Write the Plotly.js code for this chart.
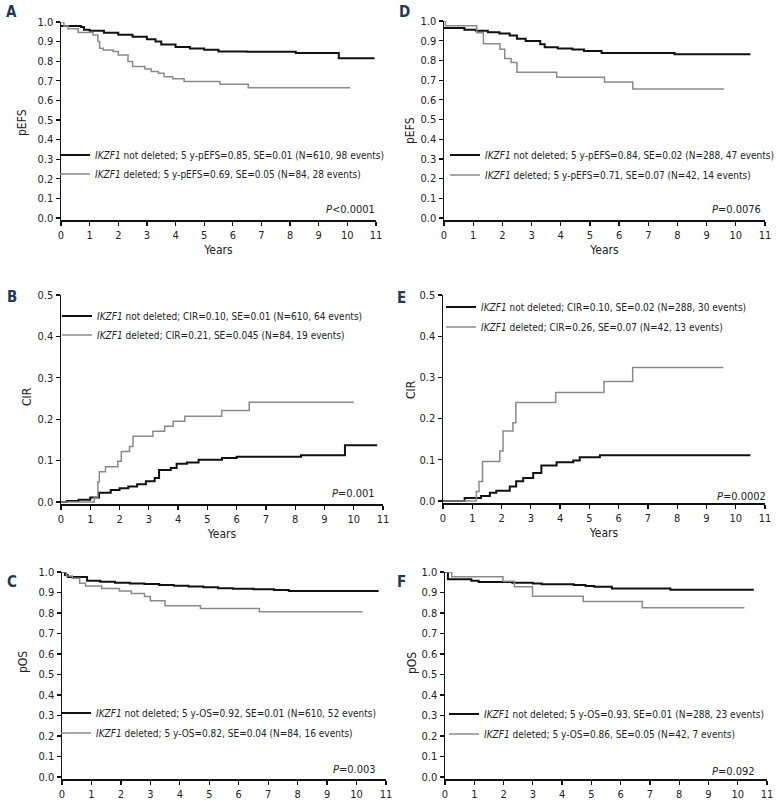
<!DOCTYPE html>
<html>
<head>
<meta charset="utf-8">
<script src="https://cdn.plot.ly/plotly-3.0.1.min.js"></script>
<style>
body { margin: 0; background: #fff; }
#chart { width: 780px; height: 804px; }
</style>
</head>
<body>
<div id="chart"></div>
<script>
// A: pEFS, whole cohort
var efsAllNotDelT = [0, 0.7, 0.8, 1.0, 1.5, 2.0, 2.5, 3.0, 3.3, 3.5, 4.0, 4.5, 5.0, 5.5, 6.5, 8.2, 9.7, 10.95];
var efsAllNotDelV = [0.98, 0.975, 0.96, 0.955, 0.945, 0.935, 0.925, 0.912, 0.9, 0.885, 0.872, 0.865, 0.858, 0.85, 0.848, 0.842, 0.815, 0.815];
var efsAllDelT = [0, 0.1, 0.25, 0.6, 1.12, 1.29, 1.35, 1.47, 1.82, 2.0, 2.34, 2.5, 2.93, 3.15, 3.4, 3.6, 3.9, 4.3, 5.55, 6.54, 10.1];
var efsAllDelV = [1.0, 0.98, 0.965, 0.947, 0.934, 0.9, 0.866, 0.857, 0.849, 0.832, 0.798, 0.773, 0.76, 0.747, 0.738, 0.721, 0.71, 0.696, 0.682, 0.665, 0.665];

// D: pEFS, subgroup
var efsSubNotDelT = [0, 0.7, 1.1, 1.5, 1.9, 2.25, 2.5, 2.8, 3.3, 3.45, 3.9, 4.4, 4.8, 5.4, 7.9, 10.5];
var efsSubNotDelV = [0.965, 0.955, 0.95, 0.943, 0.937, 0.927, 0.91, 0.898, 0.882, 0.867, 0.861, 0.855, 0.848, 0.837, 0.831, 0.831];
var efsSubDelT = [0, 0.05, 1.12, 1.35, 1.92, 2.08, 2.3, 2.5, 3.86, 5.5, 6.47, 9.6];
var efsSubDelV = [1.0, 0.976, 0.94, 0.885, 0.857, 0.81, 0.79, 0.74, 0.715, 0.69, 0.655, 0.655];

// B: CIR, whole cohort
var cirAllNotDelT = [0, 0.2, 0.6, 1.0, 1.3, 1.7, 2.0, 2.3, 2.6, 2.9, 3.2, 3.35, 3.75, 3.95, 4.3, 4.7, 5.5, 6.0, 8.2, 9.7, 10.8];
var cirAllNotDelV = [0, 0.002, 0.005, 0.011, 0.022, 0.029, 0.033, 0.037, 0.043, 0.05, 0.058, 0.077, 0.082, 0.092, 0.095, 0.102, 0.106, 0.109, 0.113, 0.137, 0.137];
var cirAllDelT = [0, 1.14, 1.26, 1.31, 1.52, 1.94, 2.06, 2.34, 2.46, 3.14, 3.54, 3.83, 4.23, 5.49, 6.43, 10.0];
var cirAllDelV = [0, 0.012, 0.049, 0.073, 0.085, 0.098, 0.122, 0.134, 0.159, 0.171, 0.183, 0.195, 0.207, 0.221, 0.241, 0.241];

// E: CIR, subgroup
var cirSubNotDelT = [0, 0.74, 1.3, 1.6, 1.82, 2.28, 2.5, 2.74, 3.08, 3.36, 3.88, 4.45, 4.67, 5.36, 10.5];
var cirSubNotDelV = [0, 0.007, 0.012, 0.02, 0.025, 0.035, 0.048, 0.056, 0.068, 0.086, 0.094, 0.098, 0.106, 0.111, 0.111];
var cirSubDelT = [0, 1.08, 1.14, 1.23, 1.35, 1.94, 2.05, 2.39, 2.49, 3.85, 5.5, 6.48, 9.58];
var cirSubDelV = [0, 0, 0.023, 0.047, 0.096, 0.121, 0.17, 0.19, 0.239, 0.263, 0.29, 0.324, 0.324];

// C: pOS, whole cohort
var osAllNotDelT = [0, 0.1, 0.2, 0.85, 1.3, 1.8, 2.3, 2.8, 3.3, 3.8, 4.3, 4.8, 5.3, 5.8, 6.5, 7.2, 7.7, 10.75];
var osAllNotDelV = [1.0, 0.985, 0.975, 0.957, 0.952, 0.947, 0.944, 0.941, 0.937, 0.933, 0.929, 0.925, 0.921, 0.918, 0.916, 0.912, 0.907, 0.907];
var osAllDelT = [0, 0.15, 0.35, 0.6, 0.8, 1.35, 1.95, 2.35, 2.8, 3.0, 3.5, 4.7, 6.7, 10.2];
var osAllDelV = [1.0, 0.98, 0.97, 0.945, 0.932, 0.92, 0.907, 0.895, 0.88, 0.86, 0.835, 0.822, 0.806, 0.806];

// F: pOS, subgroup
var osSubNotDelT = [0, 0.1, 0.9, 1.15, 2.3, 3.0, 3.3, 4.4, 4.8, 5.1, 5.7, 7.7, 10.55];
var osSubNotDelV = [1.0, 0.965, 0.957, 0.951, 0.948, 0.944, 0.94, 0.936, 0.932, 0.928, 0.92, 0.913, 0.913];
var osSubDelT = [0, 0.23, 1.98, 2.37, 2.99, 4.72, 6.74, 10.23];
var osSubDelV = [1.0, 0.977, 0.955, 0.928, 0.882, 0.856, 0.826, 0.826];

var panelLetters = ['A', 'B', 'C', 'D', 'E', 'F'];
var yTitles = ['pEFS', 'CIR', 'pOS', 'pEFS', 'CIR', 'pOS'];
var pValues = ['<i>P</i>&lt;0.0001', '<i>P</i>=0.001', '<i>P</i>=0.003', '<i>P</i>=0.0076', '<i>P</i>=0.0002', '<i>P</i>=0.092'];
var notDelNames = [
    '<i>IKZF1</i> not deleted; 5 y-pEFS=0.85, SE=0.01 (N=610, 98 events)',
    '<i>IKZF1</i> not deleted; CIR=0.10, SE=0.01 (N=610, 64 events)',
    '<i>IKZF1</i> not deleted; 5 y-OS=0.92, SE=0.01 (N=610, 52 events)',
    '<i>IKZF1</i> not deleted; 5 y-pEFS=0.84, SE=0.02 (N=288, 47 events)',
    '<i>IKZF1</i> not deleted; CIR=0.10, SE=0.02 (N=288, 30 events)',
    '<i>IKZF1</i> not deleted; 5 y-OS=0.93, SE=0.01 (N=288, 23 events)'
];
var delNames = [
    '<i>IKZF1</i> deleted; 5 y-pEFS=0.69, SE=0.05 (N=84, 28 events)',
    '<i>IKZF1</i> deleted; CIR=0.21, SE=0.045 (N=84, 19 events)',
    '<i>IKZF1</i> deleted; 5 y-OS=0.82, SE=0.04 (N=84, 16 events)',
    '<i>IKZF1</i> deleted; 5 y-pEFS=0.71, SE=0.07 (N=42, 14 events)',
    '<i>IKZF1</i> deleted; CIR=0.26, SE=0.07 (N=42, 13 events)',
    '<i>IKZF1</i> deleted; 5 y-OS=0.86, SE=0.05 (N=42, 7 events)'
];

var W = 780, H = 804;
var FONT = 'Liberation Sans Narrow, Arial Narrow, DejaVu Sans Condensed, sans-serif';

// pixel boxes of each plot area: [left, right(x=11), top(max y), bottom(axis line)]
var boxes = [
    [61, 376, 22, 220],
    [61, 383, 295, 504],
    [62, 386, 572, 779],
    [444, 765, 21, 220],
    [443, 765, 295, 503],
    [445, 767, 572, 779]
];
var yMax = [1.0, 0.5, 1.0, 1.0, 0.5, 1.0];
// legend: [text left px, row 1 centre, row 2 centre]
var legendPos = [[95, 155, 174], [97, 316, 335], [96, 713, 733], [485, 155, 175], [481, 307, 327], [484, 714, 734]];
var pPos = [[377, 210], [377, 493], [378, 769], [763, 210], [768, 496], [757, 771]];
var letterPos = [[11, 12], [12, 297], [12, 582], [404, 12], [402, 298], [402, 582]];
var yTitlePos = [[22, 123], [27, 397], [23, 662], [410, 131], [411, 390], [412, 663]];

var series = [
    [efsAllNotDelT, efsAllNotDelV, efsAllDelT, efsAllDelV],
    [cirAllNotDelT, cirAllNotDelV, cirAllDelT, cirAllDelV],
    [osAllNotDelT, osAllNotDelV, osAllDelT, osAllDelV],
    [efsSubNotDelT, efsSubNotDelV, efsSubDelT, efsSubDelV],
    [cirSubNotDelT, cirSubNotDelV, cirSubDelT, cirSubDelV],
    [osSubNotDelT, osSubNotDelV, osSubDelT, osSubDelV]
];

function px2x(p) { return p / W; }
function px2y(p) { return 1 - p / H; }

function legendBox(textLeft, rowY) {
    return {
        x: px2x(textLeft - 40), y: px2y(rowY),
        xanchor: 'left', yanchor: 'middle',
        bgcolor: 'rgba(0,0,0,0)', borderwidth: 0,
        font: {family: FONT, size: 10, color: '#222'},
        itemwidth: 30
    };
}

var data = [];
var layout = {
    width: W, height: H,
    margin: {l: 0, r: 0, t: 0, b: 0},
    paper_bgcolor: '#fff',
    plot_bgcolor: '#fff',
    font: {family: FONT, size: 11, color: '#222'},
    showlegend: true,
    annotations: []
};

for (let i = 0; i < 6; i++) {
    let suf = i === 0 ? '' : String(i + 1);
    let legA = 'legend' + (i === 0 ? '' : String(2 * i + 1));
    let legB = 'legend' + String(2 * i + 2);
    let s = series[i];
    let b = boxes[i];

    data.push({
        x: s[0], y: s[1], type: 'scatter', mode: 'lines',
        line: {shape: 'hv', color: '#111', width: 2},
        name: notDelNames[i], xaxis: 'x' + suf, yaxis: 'y' + suf, legend: legA
    });
    data.push({
        x: s[2], y: s[3], type: 'scatter', mode: 'lines',
        line: {shape: 'hv', color: '#8a8a8a', width: 1.5},
        name: delNames[i], xaxis: 'x' + suf, yaxis: 'y' + suf, legend: legB
    });
    layout[legA] = legendBox(legendPos[i][0], legendPos[i][1]);
    layout[legB] = legendBox(legendPos[i][0], legendPos[i][2]);

    let axisCommon = {
        showline: true, linecolor: '#111', linewidth: 1.5,
        ticks: 'outside', ticklen: 4, tickwidth: 1.2, tickcolor: '#111',
        showgrid: false, zeroline: false,
        tickfont: {family: FONT, size: 11, color: '#222'}
    };

    let xa = Object.assign({}, axisCommon, {
        domain: [px2x(b[0]), px2x(b[1])],
        range: [0, 11], dtick: 1, tick0: 0,
        anchor: 'y' + suf
    });
    if (i !== 2 && i !== 5) {
        xa.title = {text: 'Years', font: {family: FONT, size: 12, color: '#222'}, standoff: 5};
    }
    let ya = Object.assign({}, axisCommon, {
        domain: [px2y(b[3]), px2y(b[2])],
        range: [-yMax[i] * 0.01, yMax[i]], dtick: 0.1, tick0: 0, tickformat: '.1f',
        anchor: 'x' + suf
    });
    layout['xaxis' + suf] = xa;
    layout['yaxis' + suf] = ya;

    layout.annotations.push({
        xref: 'paper', yref: 'paper',
        x: px2x(yTitlePos[i][0]), y: px2y(yTitlePos[i][1]),
        xanchor: 'center', yanchor: 'middle', textangle: -90,
        text: yTitles[i], showarrow: false,
        font: {family: FONT, size: 12, color: '#222'}
    });
    layout.annotations.push({
        xref: 'paper', yref: 'paper',
        x: px2x(pPos[i][0]), y: px2y(pPos[i][1]),
        xanchor: 'right', yanchor: 'middle',
        text: pValues[i], showarrow: false,
        font: {family: FONT, size: 11, color: '#222'}
    });
    layout.annotations.push({
        xref: 'paper', yref: 'paper',
        x: px2x(letterPos[i][0]), y: px2y(letterPos[i][1]),
        xanchor: 'center', yanchor: 'middle',
        text: '<b>' + panelLetters[i] + '</b>', showarrow: false,
        font: {family: FONT, size: 15, color: '#1b3a5c'}
    });
}

Plotly.newPlot('chart', data, layout, {staticPlot: true});
</script>
</body>
</html>
